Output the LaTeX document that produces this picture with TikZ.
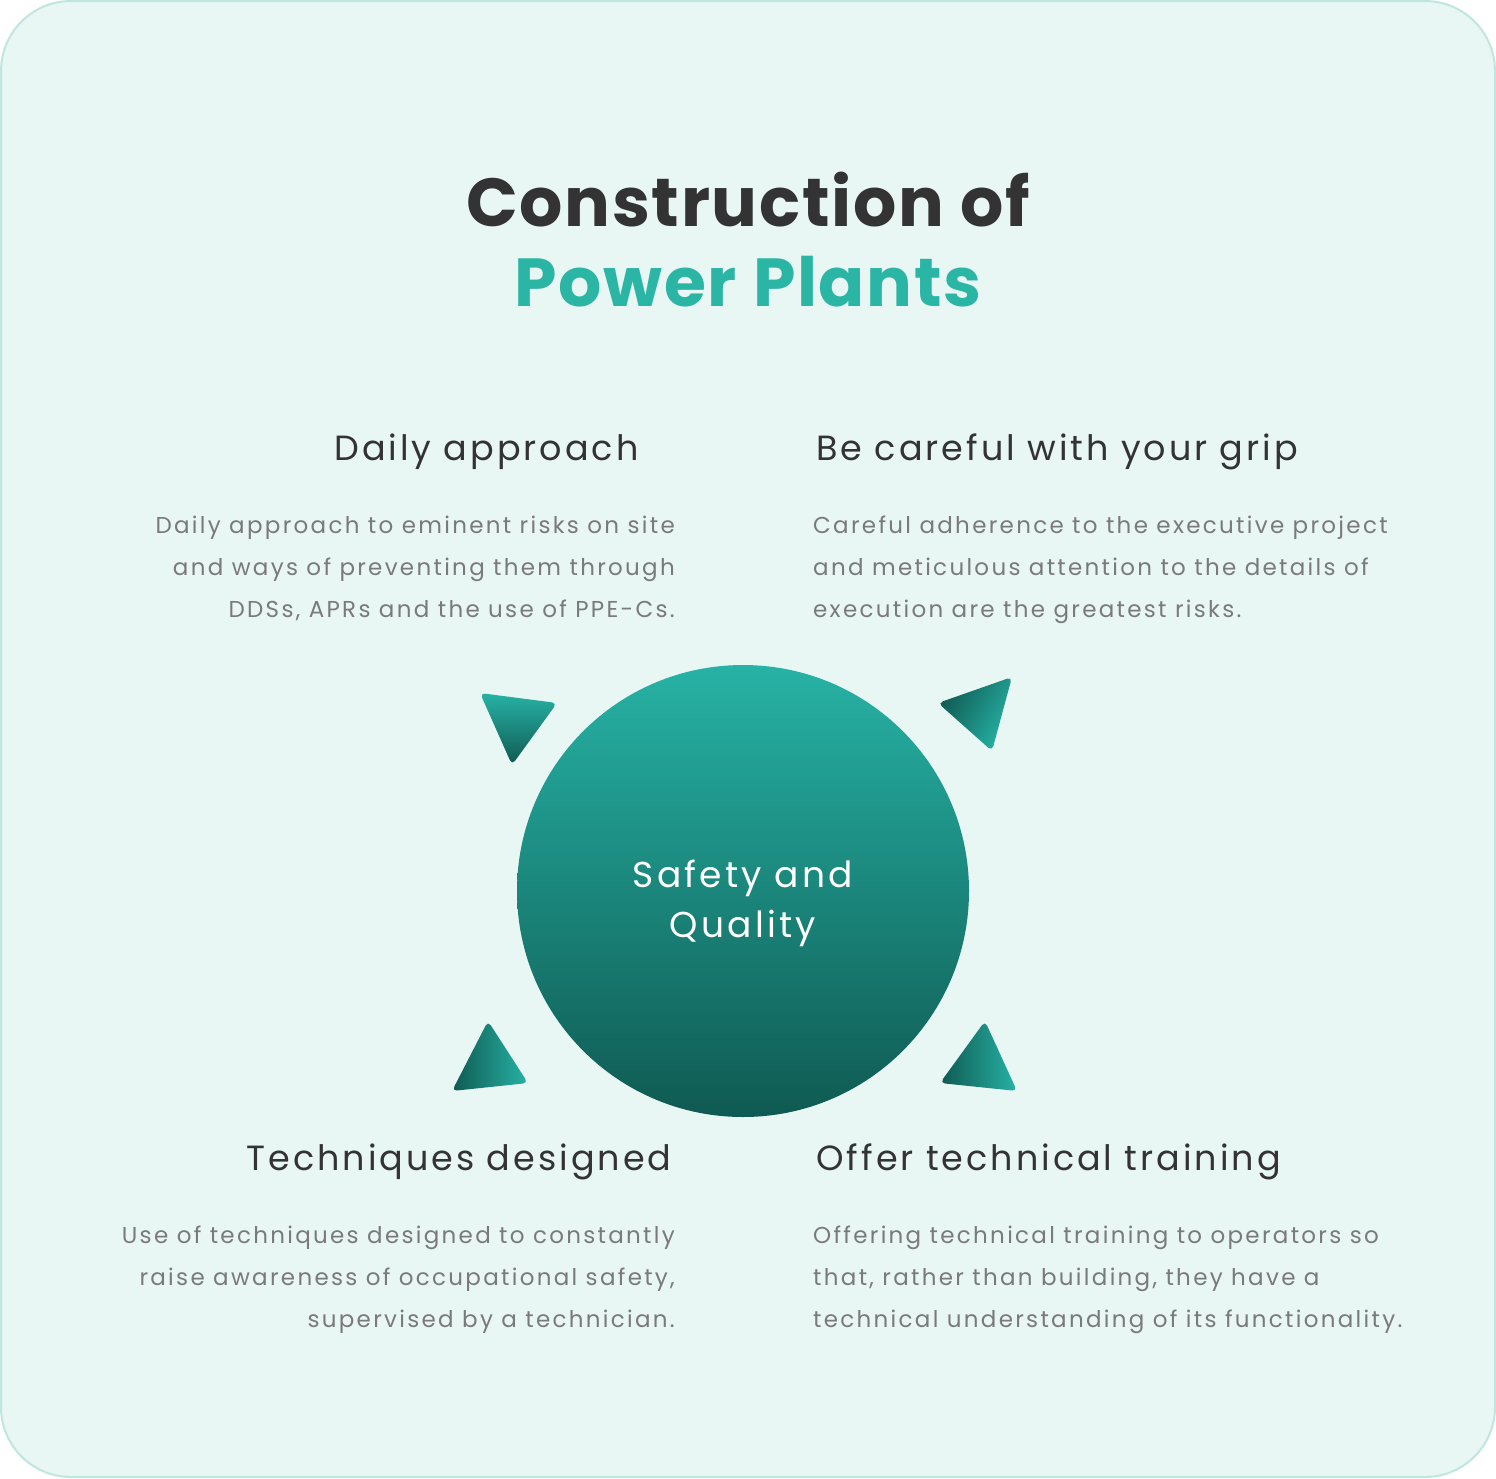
\documentclass[tikz,border=0pt]{standalone}
\usepackage{fontspec}
\setmainfont{Poppins}
\definecolor{bg}{HTML}{E8F6F4}
\definecolor{bd}{HTML}{BFE6DF}
\definecolor{dark}{HTML}{333333}
\definecolor{teal}{HTML}{2AB5A5}
\definecolor{gr}{HTML}{7A7A7A}
\definecolor{ctop}{HTML}{27B2A5}
\definecolor{cbot}{HTML}{0F5A52}
\begin{document}
\begin{tikzpicture}[x=1pt,y=-1pt,
  head/.style={text=dark,font=\fontsize{35}{44}\selectfont\addfontfeature{LetterSpace=8.5}},
  body/.style={text=gr,font=\fontsize{23}{42}\selectfont\addfontfeature{LetterSpace=10}},
  tri/.style={rounded corners=5pt,top color=ctop,bottom color=cbot,draw=none}]
\useasboundingbox (0,0) rectangle (1496,1478);
\draw[bd,fill=bg,line width=2pt,rounded corners=70pt] (1,1) rectangle (1495,1477);
\node[text=dark,font=\fontsize{68}{80}\selectfont\bfseries\addfontfeature{LetterSpace=2.5},anchor=base] (t1) at (748,226) {Construction of};
\node[text=teal,font=\fontsize{68}{80}\selectfont\bfseries\addfontfeature{LetterSpace=2.5},anchor=base] (t2) at (748,306) {Power Plants};
\shade[top color=ctop,bottom color=cbot] (743,891) circle (226);
\node[text=white,font=\fontsize{36}{50}\selectfont\addfontfeature{LetterSpace=9},align=center] (c) at (743,903) {Safety and\\Quality};
\shade[tri] (480,693) -- (557,703) -- (512,765) -- cycle;
\shade[tri,top color=cbot,bottom color=ctop,shading angle=60] (1012,677) -- (938,703) -- (992,751) -- cycle;
\shade[tri,left color=cbot,right color=ctop] (488,1021) -- (452,1091) -- (528,1083) -- cycle;
\shade[tri,left color=cbot,right color=ctop] (985,1021) -- (1017,1091) -- (940,1083) -- cycle;
\node[head,anchor=base east] (h1) at (642,460) {Daily approach};
\node[head,anchor=base west] (h2) at (813,460) {Be careful with your grip};
\node[head,anchor=base east] (h3) at (675,1170) {Techniques designed};
\node[head,anchor=base west] (h4) at (813,1170) {Offer technical training};
\node[body,anchor=north east,align=right,inner sep=0] (b1) at (675,516) {Daily approach to eminent risks on site\\and ways of preventing them through\\DDSs, APRs and the use of PPE-Cs.};
\node[body,anchor=north west,align=left,inner sep=0] (b2) at (813,516) {Careful adherence to the executive project\\and meticulous attention to the details of\\execution are the greatest risks.};
\node[body,anchor=north east,align=right,inner sep=0] (b3) at (675,1226) {Use of techniques designed to constantly\\raise awareness of occupational safety,\\supervised by a technician.};
\node[body,anchor=north west,align=left,inner sep=0] (b4) at (813,1226) {Offering technical training to operators so\\that, rather than building, they have a\\technical understanding of its functionality.};
\end{tikzpicture}
\end{document}
